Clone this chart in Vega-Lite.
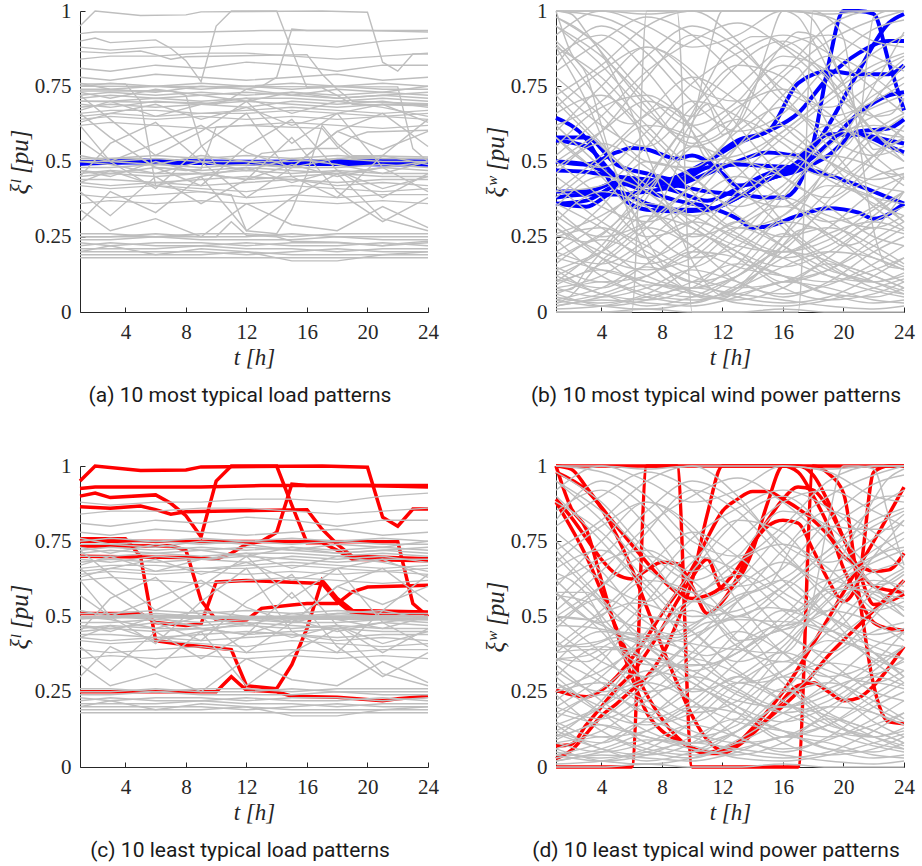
{
"$schema":"https://vega.github.io/schema/vega-lite/v6.json",
"background":"white",
"padding":{"left":7,"top":0,"right":5,"bottom":5},
"columns":2,
"spacing":{"row":49,"column":44},
"config":{
"view":{"stroke":null},
"axis":{"domainColor":"#262626","domainWidth":1,"tickColor":"#262626","labelColor":"#262626","titleColor":"#262626","labelFont":"Liberation Serif","labelFontSize":21,"titleFont":"Liberation Serif","titleFontSize":23,"titleFontStyle":"italic","titleFontWeight":"normal","grid":false,"tickSize":-5,"labelPadding":14,"labelFlush":false},
"axisX":{"titlePadding":4,"titleFontSize":23},
"axisY":{"titlePadding":2,"titleFontSize":25},
"title":{"font":"Roboto","fontSize":21,"fontWeight":"normal","color":"#1a1a1a","orient":"bottom","anchor":"middle","offset":16,"dx":-14}
},
"datasets":{
"L":[
{"s":1,"t":1,"v":0.74},{"s":1,"t":3,"v":0.74},{"s":1,"t":6,"v":0.75},{"s":1,"t":9,"v":0.74},{"s":1,"t":12,"v":0.75},{"s":1,"t":15,"v":0.74},{"s":1,"t":18,"v":0.75},{"s":1,"t":21,"v":0.74},{"s":1,"t":24,"v":0.74},
{"s":2,"t":1,"v":0.72},{"s":2,"t":3,"v":0.73},{"s":2,"t":6,"v":0.72},{"s":2,"t":9,"v":0.73},{"s":2,"t":12,"v":0.72},{"s":2,"t":15,"v":0.73},{"s":2,"t":18,"v":0.72},{"s":2,"t":21,"v":0.73},{"s":2,"t":24,"v":0.72},
{"s":3,"t":1,"v":0.70},{"s":3,"t":3,"v":0.70},{"s":3,"t":6,"v":0.71},{"s":3,"t":9,"v":0.70},{"s":3,"t":12,"v":0.71},{"s":3,"t":15,"v":0.71},{"s":3,"t":18,"v":0.70},{"s":3,"t":21,"v":0.71},{"s":3,"t":24,"v":0.70},
{"s":4,"t":1,"v":0.68},{"s":4,"t":3,"v":0.69},{"s":4,"t":6,"v":0.68},{"s":4,"t":9,"v":0.69},{"s":4,"t":12,"v":0.70},{"s":4,"t":15,"v":0.69},{"s":4,"t":18,"v":0.68},{"s":4,"t":21,"v":0.69},{"s":4,"t":24,"v":0.69},
{"s":5,"t":1,"v":0.66},{"s":5,"t":3,"v":0.67},{"s":5,"t":6,"v":0.67},{"s":5,"t":9,"v":0.66},{"s":5,"t":12,"v":0.67},{"s":5,"t":15,"v":0.68},{"s":5,"t":18,"v":0.67},{"s":5,"t":21,"v":0.66},{"s":5,"t":24,"v":0.67},
{"s":6,"t":1,"v":0.64},{"s":6,"t":3,"v":0.65},{"s":6,"t":6,"v":0.64},{"s":6,"t":9,"v":0.65},{"s":6,"t":12,"v":0.64},{"s":6,"t":15,"v":0.65},{"s":6,"t":18,"v":0.64},{"s":6,"t":21,"v":0.65},{"s":6,"t":24,"v":0.64},
{"s":7,"t":1,"v":0.62},{"s":7,"t":3,"v":0.63},{"s":7,"t":6,"v":0.62},{"s":7,"t":9,"v":0.61},{"s":7,"t":12,"v":0.62},{"s":7,"t":15,"v":0.63},{"s":7,"t":18,"v":0.62},{"s":7,"t":21,"v":0.61},{"s":7,"t":24,"v":0.62},
{"s":8,"t":1,"v":0.73},{"s":8,"t":3,"v":0.71},{"s":8,"t":6,"v":0.74},{"s":8,"t":9,"v":0.72},{"s":8,"t":12,"v":0.70},{"s":8,"t":15,"v":0.73},{"s":8,"t":18,"v":0.71},{"s":8,"t":21,"v":0.72},{"s":8,"t":24,"v":0.73},
{"s":9,"t":1,"v":0.67},{"s":9,"t":3,"v":0.70},{"s":9,"t":6,"v":0.65},{"s":9,"t":9,"v":0.69},{"s":9,"t":12,"v":0.71},{"s":9,"t":15,"v":0.66},{"s":9,"t":18,"v":0.70},{"s":9,"t":21,"v":0.68},{"s":9,"t":24,"v":0.65},
{"s":10,"t":1,"v":0.63},{"s":10,"t":3,"v":0.66},{"s":10,"t":6,"v":0.69},{"s":10,"t":9,"v":0.64},{"s":10,"t":12,"v":0.68},{"s":10,"t":15,"v":0.62},{"s":10,"t":18,"v":0.66},{"s":10,"t":21,"v":0.69},{"s":10,"t":24,"v":0.63},
{"s":11,"t":1,"v":0.51},{"s":11,"t":3,"v":0.51},{"s":11,"t":6,"v":0.52},{"s":11,"t":9,"v":0.51},{"s":11,"t":12,"v":0.52},{"s":11,"t":15,"v":0.51},{"s":11,"t":18,"v":0.52},{"s":11,"t":21,"v":0.51},{"s":11,"t":24,"v":0.51},
{"s":12,"t":1,"v":0.48},{"s":12,"t":3,"v":0.48},{"s":12,"t":6,"v":0.49},{"s":12,"t":9,"v":0.48},{"s":12,"t":12,"v":0.49},{"s":12,"t":15,"v":0.48},{"s":12,"t":18,"v":0.48},{"s":12,"t":21,"v":0.49},{"s":12,"t":24,"v":0.48},
{"s":13,"t":1,"v":0.46},{"s":13,"t":3,"v":0.47},{"s":13,"t":6,"v":0.46},{"s":13,"t":9,"v":0.46},{"s":13,"t":12,"v":0.47},{"s":13,"t":15,"v":0.46},{"s":13,"t":18,"v":0.47},{"s":13,"t":21,"v":0.46},{"s":13,"t":24,"v":0.46},
{"s":14,"t":1,"v":0.44},{"s":14,"t":3,"v":0.44},{"s":14,"t":6,"v":0.43},{"s":14,"t":9,"v":0.44},{"s":14,"t":12,"v":0.45},{"s":14,"t":15,"v":0.44},{"s":14,"t":18,"v":0.43},{"s":14,"t":21,"v":0.44},{"s":14,"t":24,"v":0.44},
{"s":15,"t":1,"v":0.42},{"s":15,"t":3,"v":0.41},{"s":15,"t":6,"v":0.42},{"s":15,"t":9,"v":0.41},{"s":15,"t":12,"v":0.40},{"s":15,"t":15,"v":0.42},{"s":15,"t":18,"v":0.41},{"s":15,"t":21,"v":0.40},{"s":15,"t":24,"v":0.41},
{"s":16,"t":1,"v":0.39},{"s":16,"t":3,"v":0.38},{"s":16,"t":6,"v":0.39},{"s":16,"t":9,"v":0.40},{"s":16,"t":12,"v":0.38},{"s":16,"t":15,"v":0.39},{"s":16,"t":18,"v":0.38},{"s":16,"t":21,"v":0.39},{"s":16,"t":24,"v":0.39},
{"s":17,"t":1,"v":0.47},{"s":17,"t":3,"v":0.45},{"s":17,"t":6,"v":0.50},{"s":17,"t":9,"v":0.46},{"s":17,"t":12,"v":0.44},{"s":17,"t":15,"v":0.49},{"s":17,"t":18,"v":0.45},{"s":17,"t":21,"v":0.48},{"s":17,"t":24,"v":0.50},
{"s":18,"t":1,"v":0.43},{"s":18,"t":3,"v":0.47},{"s":18,"t":6,"v":0.42},{"s":18,"t":9,"v":0.45},{"s":18,"t":12,"v":0.48},{"s":18,"t":15,"v":0.43},{"s":18,"t":18,"v":0.47},{"s":18,"t":21,"v":0.41},{"s":18,"t":24,"v":0.45},
{"s":19,"t":1,"v":0.50},{"s":19,"t":3,"v":0.49},{"s":19,"t":6,"v":0.46},{"s":19,"t":9,"v":0.50},{"s":19,"t":12,"v":0.47},{"s":19,"t":15,"v":0.51},{"s":19,"t":18,"v":0.49},{"s":19,"t":21,"v":0.46},{"s":19,"t":24,"v":0.50},
{"s":20,"t":1,"v":0.36},{"s":20,"t":3,"v":0.37},{"s":20,"t":6,"v":0.36},{"s":20,"t":9,"v":0.37},{"s":20,"t":12,"v":0.36},{"s":20,"t":15,"v":0.37},{"s":20,"t":18,"v":0.36},{"s":20,"t":21,"v":0.37},{"s":20,"t":24,"v":0.36},
{"s":21,"t":1,"v":0.26},{"s":21,"t":3,"v":0.26},{"s":21,"t":6,"v":0.25},{"s":21,"t":9,"v":0.26},{"s":21,"t":12,"v":0.26},{"s":21,"t":15,"v":0.25},{"s":21,"t":18,"v":0.26},{"s":21,"t":21,"v":0.26},{"s":21,"t":24,"v":0.26},
{"s":22,"t":1,"v":0.24},{"s":22,"t":3,"v":0.24},{"s":22,"t":6,"v":0.25},{"s":22,"t":9,"v":0.24},{"s":22,"t":12,"v":0.24},{"s":22,"t":15,"v":0.24},{"s":22,"t":18,"v":0.25},{"s":22,"t":21,"v":0.24},{"s":22,"t":24,"v":0.24},
{"s":23,"t":1,"v":0.23},{"s":23,"t":3,"v":0.22},{"s":23,"t":6,"v":0.23},{"s":23,"t":9,"v":0.23},{"s":23,"t":12,"v":0.22},{"s":23,"t":15,"v":0.23},{"s":23,"t":18,"v":0.23},{"s":23,"t":21,"v":0.22},{"s":23,"t":24,"v":0.23},
{"s":24,"t":1,"v":0.21},{"s":24,"t":3,"v":0.21},{"s":24,"t":6,"v":0.21},{"s":24,"t":9,"v":0.22},{"s":24,"t":12,"v":0.21},{"s":24,"t":15,"v":0.21},{"s":24,"t":18,"v":0.20},{"s":24,"t":21,"v":0.21},{"s":24,"t":24,"v":0.21},
{"s":25,"t":1,"v":0.19},{"s":25,"t":3,"v":0.19},{"s":25,"t":6,"v":0.19},{"s":25,"t":9,"v":0.19},{"s":25,"t":12,"v":0.20},{"s":25,"t":15,"v":0.19},{"s":25,"t":18,"v":0.19},{"s":25,"t":21,"v":0.19},{"s":25,"t":24,"v":0.19},
{"s":26,"t":1,"v":0.18},{"s":26,"t":3,"v":0.18},{"s":26,"t":6,"v":0.18},{"s":26,"t":9,"v":0.18},{"s":26,"t":12,"v":0.18},{"s":26,"t":15,"v":0.18},{"s":26,"t":18,"v":0.18},{"s":26,"t":21,"v":0.18},{"s":26,"t":24,"v":0.18},
{"s":27,"t":1,"v":0.20},{"s":27,"t":3,"v":0.22},{"s":27,"t":6,"v":0.19},{"s":27,"t":9,"v":0.21},{"s":27,"t":12,"v":0.20},{"s":27,"t":15,"v":0.17},{"s":27,"t":18,"v":0.17},{"s":27,"t":21,"v":0.19},{"s":27,"t":24,"v":0.20},
{"s":28,"t":1,"v":0.84},{"s":28,"t":3,"v":0.85},{"s":28,"t":6,"v":0.85},{"s":28,"t":9,"v":0.86},{"s":28,"t":12,"v":0.86},{"s":28,"t":15,"v":0.85},{"s":28,"t":18,"v":0.84},{"s":28,"t":21,"v":0.85},{"s":28,"t":24,"v":0.86},
{"s":29,"t":1,"v":0.81},{"s":29,"t":3,"v":0.80},{"s":29,"t":6,"v":0.82},{"s":29,"t":9,"v":0.81},{"s":29,"t":12,"v":0.83},{"s":29,"t":15,"v":0.82},{"s":29,"t":18,"v":0.80},{"s":29,"t":21,"v":0.82},{"s":29,"t":24,"v":0.82},
{"s":30,"t":1,"v":0.78},{"s":30,"t":3,"v":0.77},{"s":30,"t":6,"v":0.79},{"s":30,"t":9,"v":0.78},{"s":30,"t":12,"v":0.77},{"s":30,"t":15,"v":0.78},{"s":30,"t":18,"v":0.79},{"s":30,"t":21,"v":0.77},{"s":30,"t":24,"v":0.78},
{"s":31,"t":1,"v":0.88},{"s":31,"t":3,"v":0.87},{"s":31,"t":6,"v":0.88},{"s":31,"t":9,"v":0.88},{"s":31,"t":12,"v":0.89},{"s":31,"t":15,"v":0.89},{"s":31,"t":18,"v":0.88},{"s":31,"t":21,"v":0.90},{"s":31,"t":24,"v":0.91},
{"s":32,"t":1,"v":0.66},{"s":32,"t":3,"v":0.58},{"s":32,"t":6,"v":0.48},{"s":32,"t":9,"v":0.42},{"s":32,"t":12,"v":0.55},{"s":32,"t":15,"v":0.64},{"s":32,"t":18,"v":0.47},{"s":32,"t":21,"v":0.38},{"s":32,"t":24,"v":0.46},
{"s":33,"t":1,"v":0.45},{"s":33,"t":3,"v":0.56},{"s":33,"t":6,"v":0.63},{"s":33,"t":9,"v":0.50},{"s":33,"t":12,"v":0.38},{"s":33,"t":15,"v":0.48},{"s":33,"t":18,"v":0.60},{"s":33,"t":21,"v":0.66},{"s":33,"t":24,"v":0.55},
{"s":34,"t":1,"v":0.30},{"s":34,"t":3,"v":0.40},{"s":34,"t":6,"v":0.33},{"s":34,"t":9,"v":0.45},{"s":34,"t":12,"v":0.27},{"s":34,"t":15,"v":0.38},{"s":34,"t":18,"v":0.46},{"s":34,"t":21,"v":0.31},{"s":34,"t":24,"v":0.27},
{"s":35,"t":1,"v":0.57},{"s":35,"t":3,"v":0.50},{"s":35,"t":6,"v":0.56},{"s":35,"t":9,"v":0.62},{"s":35,"t":12,"v":0.53},{"s":35,"t":15,"v":0.48},{"s":35,"t":18,"v":0.60},{"s":35,"t":21,"v":0.54},{"s":35,"t":24,"v":0.60},
{"s":36,"t":1,"v":0.34},{"s":36,"t":3,"v":0.27},{"s":36,"t":6,"v":0.31},{"s":36,"t":9,"v":0.25},{"s":36,"t":12,"v":0.36},{"s":36,"t":15,"v":0.29},{"s":36,"t":18,"v":0.27},{"s":36,"t":21,"v":0.35},{"s":36,"t":24,"v":0.28},
{"s":37,"t":1,"v":0.75},{"s":37,"t":3,"v":0.76},{"s":37,"t":6,"v":0.75},{"s":37,"t":9,"v":0.76},{"s":37,"t":12,"v":0.75},{"s":37,"t":15,"v":0.76},{"s":37,"t":18,"v":0.75},{"s":37,"t":21,"v":0.76},{"s":37,"t":24,"v":0.75},
{"s":38,"t":1,"v":0.71},{"s":38,"t":3,"v":0.72},{"s":38,"t":6,"v":0.71},{"s":38,"t":9,"v":0.72},{"s":38,"t":12,"v":0.73},{"s":38,"t":15,"v":0.72},{"s":38,"t":18,"v":0.71},{"s":38,"t":21,"v":0.72},{"s":38,"t":24,"v":0.71},
{"s":39,"t":1,"v":0.69},{"s":39,"t":3,"v":0.68},{"s":39,"t":6,"v":0.70},{"s":39,"t":9,"v":0.69},{"s":39,"t":12,"v":0.68},{"s":39,"t":15,"v":0.70},{"s":39,"t":18,"v":0.69},{"s":39,"t":21,"v":0.70},{"s":39,"t":24,"v":0.68},
{"s":40,"t":1,"v":0.65},{"s":40,"t":3,"v":0.66},{"s":40,"t":6,"v":0.65},{"s":40,"t":9,"v":0.66},{"s":40,"t":12,"v":0.66},{"s":40,"t":15,"v":0.67},{"s":40,"t":18,"v":0.66},{"s":40,"t":21,"v":0.65},{"s":40,"t":24,"v":0.66},
{"s":41,"t":1,"v":0.76},{"s":41,"t":3,"v":0.74},{"s":41,"t":6,"v":0.73},{"s":41,"t":9,"v":0.75},{"s":41,"t":12,"v":0.74},{"s":41,"t":15,"v":0.72},{"s":41,"t":18,"v":0.74},{"s":41,"t":21,"v":0.73},{"s":41,"t":24,"v":0.75},
{"s":42,"t":1,"v":0.50},{"s":42,"t":3,"v":0.50},{"s":42,"t":6,"v":0.51},{"s":42,"t":9,"v":0.50},{"s":42,"t":12,"v":0.50},{"s":42,"t":15,"v":0.50},{"s":42,"t":18,"v":0.51},{"s":42,"t":21,"v":0.50},{"s":42,"t":24,"v":0.50},
{"s":43,"t":1,"v":0.47},{"s":43,"t":3,"v":0.46},{"s":43,"t":6,"v":0.48},{"s":43,"t":9,"v":0.47},{"s":43,"t":12,"v":0.48},{"s":43,"t":15,"v":0.47},{"s":43,"t":18,"v":0.46},{"s":43,"t":21,"v":0.48},{"s":43,"t":24,"v":0.47},
{"s":44,"t":1,"v":0.45},{"s":44,"t":3,"v":0.46},{"s":44,"t":6,"v":0.45},{"s":44,"t":9,"v":0.46},{"s":44,"t":12,"v":0.44},{"s":44,"t":15,"v":0.45},{"s":44,"t":18,"v":0.46},{"s":44,"t":21,"v":0.45},{"s":44,"t":24,"v":0.45},
{"s":45,"t":1,"v":0.43},{"s":45,"t":3,"v":0.42},{"s":45,"t":6,"v":0.43},{"s":45,"t":9,"v":0.42},{"s":45,"t":12,"v":0.43},{"s":45,"t":15,"v":0.44},{"s":45,"t":18,"v":0.42},{"s":45,"t":21,"v":0.43},{"s":45,"t":24,"v":0.42},
{"s":46,"t":1,"v":0.52},{"s":46,"t":3,"v":0.50},{"s":46,"t":6,"v":0.49},{"s":46,"t":9,"v":0.52},{"s":46,"t":12,"v":0.50},{"s":46,"t":15,"v":0.48},{"s":46,"t":18,"v":0.51},{"s":46,"t":21,"v":0.52},{"s":46,"t":24,"v":0.49},
{"s":47,"t":1,"v":0.25},{"s":47,"t":3,"v":0.25},{"s":47,"t":6,"v":0.26},{"s":47,"t":9,"v":0.25},{"s":47,"t":12,"v":0.25},{"s":47,"t":15,"v":0.26},{"s":47,"t":18,"v":0.25},{"s":47,"t":21,"v":0.25},{"s":47,"t":24,"v":0.25},
{"s":48,"t":1,"v":0.22},{"s":48,"t":3,"v":0.23},{"s":48,"t":6,"v":0.22},{"s":48,"t":9,"v":0.22},{"s":48,"t":12,"v":0.23},{"s":48,"t":15,"v":0.22},{"s":48,"t":18,"v":0.22},{"s":48,"t":21,"v":0.23},{"s":48,"t":24,"v":0.22},
{"s":49,"t":1,"v":0.20},{"s":49,"t":3,"v":0.20},{"s":49,"t":6,"v":0.20},{"s":49,"t":9,"v":0.20},{"s":49,"t":12,"v":0.19},{"s":49,"t":15,"v":0.20},{"s":49,"t":18,"v":0.21},{"s":49,"t":21,"v":0.20},{"s":49,"t":24,"v":0.20},
{"s":50,"t":1,"v":0.62},{"s":50,"t":3,"v":0.50},{"s":50,"t":6,"v":0.41},{"s":50,"t":9,"v":0.55},{"s":50,"t":12,"v":0.66},{"s":50,"t":15,"v":0.45},{"s":50,"t":18,"v":0.38},{"s":50,"t":21,"v":0.52},{"s":50,"t":24,"v":0.64},
{"s":51,"t":1,"v":0.40},{"s":51,"t":3,"v":0.32},{"s":51,"t":6,"v":0.45},{"s":51,"t":9,"v":0.36},{"s":51,"t":12,"v":0.44},{"s":51,"t":15,"v":0.58},{"s":51,"t":18,"v":0.40},{"s":51,"t":21,"v":0.30},{"s":51,"t":24,"v":0.38},
{"s":52,"t":1,"v":0.72},{"s":52,"t":3,"v":0.64},{"s":52,"t":6,"v":0.52},{"s":52,"t":9,"v":0.60},{"s":52,"t":12,"v":0.70},{"s":52,"t":15,"v":0.56},{"s":52,"t":18,"v":0.66},{"s":52,"t":21,"v":0.48},{"s":52,"t":24,"v":0.40},
{"s":101,"t":1,"v":0.495},{"s":101,"t":5,"v":0.5},{"s":101,"t":9,"v":0.497},{"s":101,"t":13,"v":0.493},{"s":101,"t":17,"v":0.492},{"s":101,"t":21,"v":0.49},{"s":101,"t":24,"v":0.492},
{"s":102,"t":1,"v":0.497},{"s":102,"t":5,"v":0.503},{"s":102,"t":9,"v":0.5},{"s":102,"t":13,"v":0.495},{"s":102,"t":17,"v":0.496},{"s":102,"t":21,"v":0.494},{"s":102,"t":24,"v":0.49},
{"s":103,"t":1,"v":0.493},{"s":103,"t":5,"v":0.501},{"s":103,"t":9,"v":0.496},{"s":103,"t":13,"v":0.497},{"s":103,"t":17,"v":0.493},{"s":103,"t":21,"v":0.492},{"s":103,"t":24,"v":0.495},
{"s":104,"t":1,"v":0.492},{"s":104,"t":5,"v":0.498},{"s":104,"t":9,"v":0.494},{"s":104,"t":13,"v":0.492},{"s":104,"t":17,"v":0.491},{"s":104,"t":21,"v":0.491},{"s":104,"t":24,"v":0.49},
{"s":105,"t":1,"v":0.498},{"s":105,"t":5,"v":0.504},{"s":105,"t":9,"v":0.501},{"s":105,"t":13,"v":0.499},{"s":105,"t":17,"v":0.497},{"s":105,"t":21,"v":0.495},{"s":105,"t":24,"v":0.494},
{"s":106,"t":1,"v":0.497},{"s":106,"t":5,"v":0.502},{"s":106,"t":9,"v":0.499},{"s":106,"t":13,"v":0.5},{"s":106,"t":17,"v":0.502},{"s":106,"t":21,"v":0.503},{"s":106,"t":24,"v":0.501},
{"s":107,"t":1,"v":0.493},{"s":107,"t":5,"v":0.499},{"s":107,"t":9,"v":0.495},{"s":107,"t":13,"v":0.494},{"s":107,"t":17,"v":0.492},{"s":107,"t":21,"v":0.49},{"s":107,"t":24,"v":0.489},
{"s":108,"t":1,"v":0.496},{"s":108,"t":5,"v":0.501},{"s":108,"t":9,"v":0.498},{"s":108,"t":13,"v":0.496},{"s":108,"t":17,"v":0.497},{"s":108,"t":21,"v":0.495},{"s":108,"t":24,"v":0.493},
{"s":109,"t":1,"v":0.494},{"s":109,"t":5,"v":0.497},{"s":109,"t":9,"v":0.494},{"s":109,"t":13,"v":0.495},{"s":109,"t":17,"v":0.494},{"s":109,"t":21,"v":0.493},{"s":109,"t":24,"v":0.492},
{"s":110,"t":1,"v":0.498},{"s":110,"t":5,"v":0.503},{"s":110,"t":9,"v":0.5},{"s":110,"t":13,"v":0.498},{"s":110,"t":17,"v":0.499},{"s":110,"t":21,"v":0.5},{"s":110,"t":24,"v":0.499},
{"s":201,"t":1,"v":0.95},{"s":201,"t":2,"v":1.0},{"s":201,"t":5,"v":0.985},{"s":201,"t":8,"v":0.987},{"s":201,"t":9,"v":0.997},{"s":201,"t":17,"v":1.0},{"s":201,"t":20,"v":0.996},{"s":201,"t":21,"v":0.83},{"s":201,"t":22,"v":0.8},{"s":201,"t":23,"v":0.857},{"s":201,"t":24,"v":0.857},
{"s":202,"t":1,"v":0.925},{"s":202,"t":2,"v":0.93},{"s":202,"t":9,"v":0.93},{"s":202,"t":13,"v":0.935},{"s":202,"t":20,"v":0.935},{"s":202,"t":24,"v":0.93},
{"s":203,"t":1,"v":0.9},{"s":203,"t":2,"v":0.91},{"s":203,"t":3,"v":0.895},{"s":203,"t":6,"v":0.904},{"s":203,"t":7,"v":0.876},{"s":203,"t":8,"v":0.835},{"s":203,"t":9,"v":0.765},{"s":203,"t":10,"v":0.95},{"s":203,"t":11,"v":1.0},{"s":203,"t":14,"v":1.0},{"s":203,"t":15,"v":0.87},{"s":203,"t":16,"v":0.745},{"s":203,"t":17,"v":0.745},{"s":203,"t":18,"v":0.72},{"s":203,"t":19,"v":0.69},{"s":203,"t":24,"v":0.685},
{"s":204,"t":1,"v":0.865},{"s":204,"t":3,"v":0.86},{"s":204,"t":5,"v":0.867},{"s":204,"t":6,"v":0.855},{"s":204,"t":7,"v":0.84},{"s":204,"t":8,"v":0.848},{"s":204,"t":16,"v":0.855},{"s":204,"t":17,"v":0.79},{"s":204,"t":18,"v":0.74},{"s":204,"t":19,"v":0.7},{"s":204,"t":24,"v":0.692},
{"s":205,"t":1,"v":0.7},{"s":205,"t":9,"v":0.695},{"s":205,"t":10,"v":0.69},{"s":205,"t":11,"v":0.71},{"s":205,"t":12,"v":0.74},{"s":205,"t":13,"v":0.75},{"s":205,"t":14,"v":0.78},{"s":205,"t":15,"v":0.94},{"s":205,"t":16,"v":0.935},{"s":205,"t":24,"v":0.935},
{"s":206,"t":1,"v":0.734},{"s":206,"t":7,"v":0.735},{"s":206,"t":8,"v":0.72},{"s":206,"t":9,"v":0.554},{"s":206,"t":10,"v":0.488},{"s":206,"t":12,"v":0.488},{"s":206,"t":13,"v":0.527},{"s":206,"t":15,"v":0.538},{"s":206,"t":16,"v":0.543},{"s":206,"t":18,"v":0.543},{"s":206,"t":19,"v":0.582},{"s":206,"t":20,"v":0.598},{"s":206,"t":24,"v":0.604},
{"s":207,"t":1,"v":0.758},{"s":207,"t":4,"v":0.758},{"s":207,"t":5,"v":0.7},{"s":207,"t":6,"v":0.42},{"s":207,"t":8,"v":0.405},{"s":207,"t":11,"v":0.39},{"s":207,"t":12,"v":0.27},{"s":207,"t":14,"v":0.26},{"s":207,"t":15,"v":0.34},{"s":207,"t":16,"v":0.46},{"s":207,"t":17,"v":0.62},{"s":207,"t":18,"v":0.56},{"s":207,"t":19,"v":0.52},{"s":207,"t":24,"v":0.515},
{"s":208,"t":1,"v":0.51},{"s":208,"t":5,"v":0.51},{"s":208,"t":6,"v":0.48},{"s":208,"t":8,"v":0.47},{"s":208,"t":9,"v":0.475},{"s":208,"t":10,"v":0.615},{"s":208,"t":12,"v":0.62},{"s":208,"t":17,"v":0.61},{"s":208,"t":18,"v":0.55},{"s":208,"t":19,"v":0.51},{"s":208,"t":24,"v":0.51},
{"s":209,"t":1,"v":0.25},{"s":209,"t":10,"v":0.25},{"s":209,"t":11,"v":0.3},{"s":209,"t":12,"v":0.255},{"s":209,"t":14,"v":0.25},{"s":209,"t":15,"v":0.235},{"s":209,"t":18,"v":0.232},{"s":209,"t":21,"v":0.22},{"s":209,"t":22,"v":0.227},{"s":209,"t":24,"v":0.235},
{"s":210,"t":1,"v":0.75},{"s":210,"t":22,"v":0.748},{"s":210,"t":23,"v":0.543},{"s":210,"t":24,"v":0.5}
],
"W":[
{"s":1,"t":1,"v":0.95},{"s":1,"t":4,"v":0.85},{"s":1,"t":7,"v":0.7},{"s":1,"t":10,"v":0.55},{"s":1,"t":13,"v":0.62},{"s":1,"t":16,"v":0.78},{"s":1,"t":19,"v":0.9},{"s":1,"t":22,"v":0.97},{"s":1,"t":24,"v":1.0},
{"s":2,"t":1,"v":0.1},{"s":2,"t":4,"v":0.22},{"s":2,"t":7,"v":0.4},{"s":2,"t":10,"v":0.55},{"s":2,"t":13,"v":0.48},{"s":2,"t":16,"v":0.3},{"s":2,"t":19,"v":0.18},{"s":2,"t":22,"v":0.12},{"s":2,"t":24,"v":0.08},
{"s":3,"t":1,"v":0.6},{"s":3,"t":4,"v":0.75},{"s":3,"t":7,"v":0.88},{"s":3,"t":10,"v":0.8},{"s":3,"t":13,"v":0.62},{"s":3,"t":16,"v":0.45},{"s":3,"t":19,"v":0.38},{"s":3,"t":22,"v":0.5},{"s":3,"t":24,"v":0.62},
{"s":4,"t":1,"v":0.3},{"s":4,"t":4,"v":0.18},{"s":4,"t":7,"v":0.08},{"s":4,"t":10,"v":0.05},{"s":4,"t":13,"v":0.12},{"s":4,"t":16,"v":0.25},{"s":4,"t":19,"v":0.4},{"s":4,"t":22,"v":0.52},{"s":4,"t":24,"v":0.58},
{"s":5,"t":1,"v":0.85},{"s":5,"t":4,"v":0.92},{"s":5,"t":7,"v":0.8},{"s":5,"t":10,"v":0.6},{"s":5,"t":13,"v":0.4},{"s":5,"t":16,"v":0.35},{"s":5,"t":19,"v":0.48},{"s":5,"t":22,"v":0.7},{"s":5,"t":24,"v":0.82},
{"s":6,"t":1,"v":0.05},{"s":6,"t":4,"v":0.03},{"s":6,"t":7,"v":0.06},{"s":6,"t":10,"v":0.15},{"s":6,"t":13,"v":0.28},{"s":6,"t":16,"v":0.35},{"s":6,"t":19,"v":0.3},{"s":6,"t":22,"v":0.2},{"s":6,"t":24,"v":0.15},
{"s":7,"t":1,"v":0.45},{"s":7,"t":4,"v":0.35},{"s":7,"t":7,"v":0.3},{"s":7,"t":10,"v":0.38},{"s":7,"t":13,"v":0.55},{"s":7,"t":16,"v":0.72},{"s":7,"t":19,"v":0.85},{"s":7,"t":22,"v":0.78},{"s":7,"t":24,"v":0.7},
{"s":8,"t":1,"v":0.7},{"s":8,"t":4,"v":0.55},{"s":8,"t":7,"v":0.42},{"s":8,"t":10,"v":0.3},{"s":8,"t":13,"v":0.22},{"s":8,"t":16,"v":0.2},{"s":8,"t":19,"v":0.28},{"s":8,"t":22,"v":0.4},{"s":8,"t":24,"v":0.45},
{"s":9,"t":1,"v":0.2},{"s":9,"t":4,"v":0.3},{"s":9,"t":7,"v":0.45},{"s":9,"t":10,"v":0.65},{"s":9,"t":13,"v":0.82},{"s":9,"t":16,"v":0.9},{"s":9,"t":19,"v":0.78},{"s":9,"t":22,"v":0.6},{"s":9,"t":24,"v":0.5},
{"s":10,"t":1,"v":0.02},{"s":10,"t":4,"v":0.04},{"s":10,"t":7,"v":0.03},{"s":10,"t":10,"v":0.02},{"s":10,"t":13,"v":0.05},{"s":10,"t":16,"v":0.1},{"s":10,"t":19,"v":0.08},{"s":10,"t":22,"v":0.04},{"s":10,"t":24,"v":0.03},
{"s":11,"t":1,"v":1.0},{"s":11,"t":4,"v":0.98},{"s":11,"t":7,"v":0.9},{"s":11,"t":10,"v":0.75},{"s":11,"t":13,"v":0.7},{"s":11,"t":16,"v":0.8},{"s":11,"t":19,"v":0.95},{"s":11,"t":22,"v":1.0},{"s":11,"t":24,"v":1.0},
{"s":12,"t":1,"v":0.38},{"s":12,"t":4,"v":0.5},{"s":12,"t":7,"v":0.62},{"s":12,"t":10,"v":0.58},{"s":12,"t":13,"v":0.42},{"s":12,"t":16,"v":0.28},{"s":12,"t":19,"v":0.15},{"s":12,"t":22,"v":0.1},{"s":12,"t":24,"v":0.12},
{"s":13,"t":1,"v":0.15},{"s":13,"t":4,"v":0.1},{"s":13,"t":7,"v":0.12},{"s":13,"t":10,"v":0.2},{"s":13,"t":13,"v":0.18},{"s":13,"t":16,"v":0.12},{"s":13,"t":19,"v":0.06},{"s":13,"t":22,"v":0.05},{"s":13,"t":24,"v":0.08},
{"s":14,"t":1,"v":0.55},{"s":14,"t":4,"v":0.68},{"s":14,"t":7,"v":0.72},{"s":14,"t":10,"v":0.65},{"s":14,"t":13,"v":0.75},{"s":14,"t":16,"v":0.88},{"s":14,"t":19,"v":0.92},{"s":14,"t":22,"v":0.85},{"s":14,"t":24,"v":0.8},
{"s":15,"t":1,"v":0.25},{"s":15,"t":4,"v":0.28},{"s":15,"t":7,"v":0.2},{"s":15,"t":10,"v":0.12},{"s":15,"t":13,"v":0.08},{"s":15,"t":16,"v":0.1},{"s":15,"t":19,"v":0.18},{"s":15,"t":22,"v":0.3},{"s":15,"t":24,"v":0.35},
{"s":16,"t":1,"v":0.78},{"s":16,"t":4,"v":0.65},{"s":16,"t":7,"v":0.5},{"s":16,"t":10,"v":0.48},{"s":16,"t":13,"v":0.6},{"s":16,"t":16,"v":0.68},{"s":16,"t":19,"v":0.55},{"s":16,"t":22,"v":0.38},{"s":16,"t":24,"v":0.3},
{"s":17,"t":1,"v":0.08},{"s":17,"t":4,"v":0.12},{"s":17,"t":7,"v":0.22},{"s":17,"t":10,"v":0.3},{"s":17,"t":13,"v":0.25},{"s":17,"t":16,"v":0.18},{"s":17,"t":19,"v":0.22},{"s":17,"t":22,"v":0.32},{"s":17,"t":24,"v":0.4},
{"s":18,"t":1,"v":0.92},{"s":18,"t":4,"v":1.0},{"s":18,"t":7,"v":0.95},{"s":18,"t":10,"v":0.88},{"s":18,"t":13,"v":0.92},{"s":18,"t":16,"v":1.0},{"s":18,"t":19,"v":0.98},{"s":18,"t":22,"v":0.9},{"s":18,"t":24,"v":0.88},
{"s":19,"t":1,"v":0.32},{"s":19,"t":4,"v":0.25},{"s":19,"t":7,"v":0.3},{"s":19,"t":10,"v":0.42},{"s":19,"t":13,"v":0.5},{"s":19,"t":16,"v":0.45},{"s":19,"t":19,"v":0.35},{"s":19,"t":22,"v":0.25},{"s":19,"t":24,"v":0.22},
{"s":20,"t":1,"v":0.62},{"s":20,"t":4,"v":0.48},{"s":20,"t":7,"v":0.35},{"s":20,"t":10,"v":0.22},{"s":20,"t":13,"v":0.15},{"s":20,"t":16,"v":0.12},{"s":20,"t":19,"v":0.1},{"s":20,"t":22,"v":0.14},{"s":20,"t":24,"v":0.18},
{"s":21,"t":1,"v":0.12},{"s":21,"t":4,"v":0.2},{"s":21,"t":7,"v":0.32},{"s":21,"t":10,"v":0.28},{"s":21,"t":13,"v":0.18},{"s":21,"t":16,"v":0.08},{"s":21,"t":19,"v":0.04},{"s":21,"t":22,"v":0.06},{"s":21,"t":24,"v":0.1},
{"s":22,"t":1,"v":0.48},{"s":22,"t":4,"v":0.6},{"s":22,"t":7,"v":0.78},{"s":22,"t":10,"v":0.92},{"s":22,"t":13,"v":0.85},{"s":22,"t":16,"v":0.7},{"s":22,"t":19,"v":0.62},{"s":22,"t":22,"v":0.72},{"s":22,"t":24,"v":0.78},
{"s":23,"t":1,"v":0.04},{"s":23,"t":4,"v":0.08},{"s":23,"t":7,"v":0.15},{"s":23,"t":10,"v":0.1},{"s":23,"t":13,"v":0.05},{"s":23,"t":16,"v":0.03},{"s":23,"t":19,"v":0.05},{"s":23,"t":22,"v":0.12},{"s":23,"t":24,"v":0.18},
{"s":24,"t":1,"v":0.72},{"s":24,"t":4,"v":0.82},{"s":24,"t":7,"v":0.95},{"s":24,"t":10,"v":1.0},{"s":24,"t":13,"v":0.9},{"s":24,"t":16,"v":0.72},{"s":24,"t":19,"v":0.58},{"s":24,"t":22,"v":0.52},{"s":24,"t":24,"v":0.55},
{"s":25,"t":1,"v":0.18},{"s":25,"t":4,"v":0.14},{"s":25,"t":7,"v":0.1},{"s":25,"t":10,"v":0.08},{"s":25,"t":13,"v":0.12},{"s":25,"t":16,"v":0.22},{"s":25,"t":19,"v":0.35},{"s":25,"t":22,"v":0.45},{"s":25,"t":24,"v":0.48},
{"s":26,"t":1,"v":0.4},{"s":26,"t":4,"v":0.42},{"s":26,"t":7,"v":0.55},{"s":26,"t":10,"v":0.7},{"s":26,"t":13,"v":0.65},{"s":26,"t":16,"v":0.52},{"s":26,"t":19,"v":0.45},{"s":26,"t":22,"v":0.58},{"s":26,"t":24,"v":0.65},
{"s":27,"t":1,"v":0.06},{"s":27,"t":4,"v":0.02},{"s":27,"t":7,"v":0.01},{"s":27,"t":10,"v":0.03},{"s":27,"t":13,"v":0.08},{"s":27,"t":16,"v":0.15},{"s":27,"t":19,"v":0.2},{"s":27,"t":22,"v":0.18},{"s":27,"t":24,"v":0.14},
{"s":28,"t":1,"v":0.88},{"s":28,"t":4,"v":0.78},{"s":28,"t":7,"v":0.62},{"s":28,"t":10,"v":0.5},{"s":28,"t":13,"v":0.52},{"s":28,"t":16,"v":0.6},{"s":28,"t":19,"v":0.72},{"s":28,"t":22,"v":0.82},{"s":28,"t":24,"v":0.86},
{"s":29,"t":1,"v":0.22},{"s":29,"t":4,"v":0.35},{"s":29,"t":7,"v":0.5},{"s":29,"t":10,"v":0.45},{"s":29,"t":13,"v":0.32},{"s":29,"t":16,"v":0.25},{"s":29,"t":19,"v":0.28},{"s":29,"t":22,"v":0.22},{"s":29,"t":24,"v":0.16},
{"s":30,"t":1,"v":0.58},{"s":30,"t":4,"v":0.45},{"s":30,"t":7,"v":0.28},{"s":30,"t":10,"v":0.18},{"s":30,"t":13,"v":0.22},{"s":30,"t":16,"v":0.38},{"s":30,"t":19,"v":0.55},{"s":30,"t":22,"v":0.65},{"s":30,"t":24,"v":0.68},
{"s":31,"t":1,"v":0.14},{"s":31,"t":4,"v":0.06},{"s":31,"t":7,"v":0.04},{"s":31,"t":10,"v":0.08},{"s":31,"t":13,"v":0.2},{"s":31,"t":16,"v":0.32},{"s":31,"t":19,"v":0.42},{"s":31,"t":22,"v":0.38},{"s":31,"t":24,"v":0.3},
{"s":32,"t":1,"v":0.8},{"s":32,"t":4,"v":0.9},{"s":32,"t":7,"v":0.98},{"s":32,"t":10,"v":0.92},{"s":32,"t":13,"v":0.78},{"s":32,"t":16,"v":0.62},{"s":32,"t":19,"v":0.5},{"s":32,"t":22,"v":0.42},{"s":32,"t":24,"v":0.4},
{"s":33,"t":1,"v":0.28},{"s":33,"t":4,"v":0.2},{"s":33,"t":7,"v":0.16},{"s":33,"t":10,"v":0.22},{"s":33,"t":13,"v":0.35},{"s":33,"t":16,"v":0.48},{"s":33,"t":19,"v":0.6},{"s":33,"t":22,"v":0.68},{"s":33,"t":24,"v":0.72},
{"s":34,"t":1,"v":0.01},{"s":34,"t":4,"v":0.02},{"s":34,"t":7,"v":0.05},{"s":34,"t":10,"v":0.08},{"s":34,"t":13,"v":0.06},{"s":34,"t":16,"v":0.04},{"s":34,"t":19,"v":0.02},{"s":34,"t":22,"v":0.01},{"s":34,"t":24,"v":0.02},
{"s":35,"t":1,"v":0.5},{"s":35,"t":4,"v":0.38},{"s":35,"t":7,"v":0.25},{"s":35,"t":10,"v":0.3},{"s":35,"t":13,"v":0.45},{"s":35,"t":16,"v":0.58},{"s":35,"t":19,"v":0.7},{"s":35,"t":22,"v":0.8},{"s":35,"t":24,"v":0.85},
{"s":36,"t":1,"v":0.35},{"s":36,"t":4,"v":0.45},{"s":36,"t":7,"v":0.4},{"s":36,"t":10,"v":0.28},{"s":36,"t":13,"v":0.2},{"s":36,"t":16,"v":0.15},{"s":36,"t":19,"v":0.2},{"s":36,"t":22,"v":0.28},{"s":36,"t":24,"v":0.26},
{"s":37,"t":1,"v":0.66},{"s":37,"t":4,"v":0.72},{"s":37,"t":7,"v":0.6},{"s":37,"t":10,"v":0.45},{"s":37,"t":13,"v":0.35},{"s":37,"t":16,"v":0.42},{"s":37,"t":19,"v":0.58},{"s":37,"t":22,"v":0.62},{"s":37,"t":24,"v":0.6},
{"s":38,"t":1,"v":0.1},{"s":38,"t":4,"v":0.16},{"s":38,"t":7,"v":0.28},{"s":38,"t":10,"v":0.42},{"s":38,"t":13,"v":0.55},{"s":38,"t":16,"v":0.62},{"s":38,"t":19,"v":0.5},{"s":38,"t":22,"v":0.35},{"s":38,"t":24,"v":0.28},
{"s":39,"t":1,"v":0.98},{"s":39,"t":4,"v":0.88},{"s":39,"t":7,"v":0.72},{"s":39,"t":10,"v":0.62},{"s":39,"t":13,"v":0.7},{"s":39,"t":16,"v":0.85},{"s":39,"t":19,"v":0.8},{"s":39,"t":22,"v":0.65},{"s":39,"t":24,"v":0.58},
{"s":40,"t":1,"v":0.24},{"s":40,"t":4,"v":0.12},{"s":40,"t":7,"v":0.06},{"s":40,"t":10,"v":0.04},{"s":40,"t":13,"v":0.06},{"s":40,"t":16,"v":0.1},{"s":40,"t":19,"v":0.14},{"s":40,"t":22,"v":0.22},{"s":40,"t":24,"v":0.28},
{"s":41,"t":1,"v":0.42},{"s":41,"t":4,"v":0.3},{"s":41,"t":7,"v":0.22},{"s":41,"t":10,"v":0.15},{"s":41,"t":13,"v":0.25},{"s":41,"t":16,"v":0.4},{"s":41,"t":19,"v":0.52},{"s":41,"t":22,"v":0.48},{"s":41,"t":24,"v":0.42},
{"s":42,"t":1,"v":0.75},{"s":42,"t":4,"v":0.62},{"s":42,"t":7,"v":0.55},{"s":42,"t":10,"v":0.68},{"s":42,"t":13,"v":0.82},{"s":42,"t":16,"v":0.78},{"s":42,"t":19,"v":0.65},{"s":42,"t":22,"v":0.7},{"s":42,"t":24,"v":0.76},
{"s":43,"t":1,"v":0.16},{"s":43,"t":4,"v":0.24},{"s":43,"t":7,"v":0.18},{"s":43,"t":10,"v":0.1},{"s":43,"t":13,"v":0.14},{"s":43,"t":16,"v":0.26},{"s":43,"t":19,"v":0.16},{"s":43,"t":22,"v":0.08},{"s":43,"t":24,"v":0.06},
{"s":44,"t":1,"v":0.03},{"s":44,"t":4,"v":0.06},{"s":44,"t":7,"v":0.12},{"s":44,"t":10,"v":0.2},{"s":44,"t":13,"v":0.3},{"s":44,"t":16,"v":0.22},{"s":44,"t":19,"v":0.12},{"s":44,"t":22,"v":0.07},{"s":44,"t":24,"v":0.05},
{"s":45,"t":1,"v":0.52},{"s":45,"t":4,"v":0.65},{"s":45,"t":7,"v":0.8},{"s":45,"t":10,"v":0.9},{"s":45,"t":13,"v":0.96},{"s":45,"t":16,"v":0.88},{"s":45,"t":19,"v":0.75},{"s":45,"t":22,"v":0.6},{"s":45,"t":24,"v":0.52},
{"s":46,"t":1,"v":0.08},{"s":46,"t":4,"v":0.05},{"s":46,"t":7,"v":0.08},{"s":46,"t":10,"v":0.14},{"s":46,"t":13,"v":0.1},{"s":46,"t":16,"v":0.05},{"s":46,"t":19,"v":0.1},{"s":46,"t":22,"v":0.2},{"s":46,"t":24,"v":0.25},
{"s":47,"t":1,"v":0.3},{"s":47,"t":4,"v":0.4},{"s":47,"t":7,"v":0.35},{"s":47,"t":10,"v":0.25},{"s":47,"t":13,"v":0.3},{"s":47,"t":16,"v":0.38},{"s":47,"t":19,"v":0.32},{"s":47,"t":22,"v":0.28},{"s":47,"t":24,"v":0.32},
{"s":48,"t":1,"v":0.68},{"s":48,"t":4,"v":0.8},{"s":48,"t":7,"v":0.88},{"s":48,"t":10,"v":0.78},{"s":48,"t":13,"v":0.55},{"s":48,"t":16,"v":0.38},{"s":48,"t":19,"v":0.3},{"s":48,"t":22,"v":0.35},{"s":48,"t":24,"v":0.45},
{"s":49,"t":1,"v":0.0},{"s":49,"t":4,"v":0.0},{"s":49,"t":7,"v":0.01},{"s":49,"t":10,"v":0.0},{"s":49,"t":13,"v":0.0},{"s":49,"t":16,"v":0.01},{"s":49,"t":19,"v":0.0},{"s":49,"t":22,"v":0.0},{"s":49,"t":24,"v":0.0},
{"s":50,"t":1,"v":1.0},{"s":50,"t":4,"v":1.0},{"s":50,"t":7,"v":0.99},{"s":50,"t":10,"v":1.0},{"s":50,"t":13,"v":1.0},{"s":50,"t":16,"v":1.0},{"s":50,"t":19,"v":0.99},{"s":50,"t":22,"v":1.0},{"s":50,"t":24,"v":1.0},
{"s":51,"t":1,"v":0.12},{"s":51,"t":4,"v":0.08},{"s":51,"t":7,"v":0.16},{"s":51,"t":10,"v":0.26},{"s":51,"t":13,"v":0.2},{"s":51,"t":16,"v":0.1},{"s":51,"t":19,"v":0.14},{"s":51,"t":22,"v":0.24},{"s":51,"t":24,"v":0.3},
{"s":52,"t":1,"v":0.9},{"s":52,"t":4,"v":0.75},{"s":52,"t":7,"v":0.58},{"s":52,"t":10,"v":0.4},{"s":52,"t":13,"v":0.28},{"s":52,"t":16,"v":0.32},{"s":52,"t":19,"v":0.45},{"s":52,"t":22,"v":0.6},{"s":52,"t":24,"v":0.66},
{"s":53,"t":1,"v":0.2},{"s":53,"t":4,"v":0.16},{"s":53,"t":7,"v":0.24},{"s":53,"t":10,"v":0.36},{"s":53,"t":13,"v":0.45},{"s":53,"t":16,"v":0.38},{"s":53,"t":19,"v":0.26},{"s":53,"t":22,"v":0.18},{"s":53,"t":24,"v":0.14},
{"s":54,"t":1,"v":0.06},{"s":54,"t":4,"v":0.1},{"s":54,"t":7,"v":0.05},{"s":54,"t":10,"v":0.03},{"s":54,"t":13,"v":0.09},{"s":54,"t":16,"v":0.18},{"s":54,"t":19,"v":0.26},{"s":54,"t":22,"v":0.3},{"s":54,"t":24,"v":0.27},
{"s":55,"t":1,"v":0.62},{"s":55,"t":4,"v":0.7},{"s":55,"t":7,"v":0.85},{"s":55,"t":10,"v":0.95},{"s":55,"t":13,"v":0.88},{"s":55,"t":16,"v":0.74},{"s":55,"t":19,"v":0.68},{"s":55,"t":22,"v":0.76},{"s":55,"t":24,"v":0.84},
{"s":56,"t":1,"v":0.34},{"s":56,"t":4,"v":0.22},{"s":56,"t":7,"v":0.12},{"s":56,"t":10,"v":0.08},{"s":56,"t":13,"v":0.16},{"s":56,"t":16,"v":0.3},{"s":56,"t":19,"v":0.26},{"s":56,"t":22,"v":0.15},{"s":56,"t":24,"v":0.1},
{"s":57,"t":1,"v":0.26},{"s":57,"t":4,"v":0.32},{"s":57,"t":7,"v":0.42},{"s":57,"t":10,"v":0.55},{"s":57,"t":13,"v":0.68},{"s":57,"t":16,"v":0.74},{"s":57,"t":19,"v":0.66},{"s":57,"t":22,"v":0.52},{"s":57,"t":24,"v":0.44},
{"s":58,"t":1,"v":0.82},{"s":58,"t":4,"v":0.95},{"s":58,"t":7,"v":0.86},{"s":58,"t":10,"v":0.7},{"s":58,"t":13,"v":0.6},{"s":58,"t":16,"v":0.66},{"s":58,"t":19,"v":0.82},{"s":58,"t":22,"v":0.94},{"s":58,"t":24,"v":0.97},
{"s":59,"t":1,"v":0.04},{"s":59,"t":4,"v":0.02},{"s":59,"t":7,"v":0.04},{"s":59,"t":10,"v":0.1},{"s":59,"t":13,"v":0.16},{"s":59,"t":16,"v":0.12},{"s":59,"t":19,"v":0.06},{"s":59,"t":22,"v":0.03},{"s":59,"t":24,"v":0.04},
{"s":60,"t":1,"v":0.46},{"s":60,"t":4,"v":0.56},{"s":60,"t":7,"v":0.48},{"s":60,"t":10,"v":0.36},{"s":60,"t":13,"v":0.26},{"s":60,"t":16,"v":0.2},{"s":60,"t":19,"v":0.24},{"s":60,"t":22,"v":0.34},{"s":60,"t":24,"v":0.4},
{"s":61,"t":1,"v":0.14},{"s":61,"t":4,"v":0.2},{"s":61,"t":7,"v":0.28},{"s":61,"t":10,"v":0.22},{"s":61,"t":13,"v":0.1},{"s":61,"t":16,"v":0.06},{"s":61,"t":19,"v":0.09},{"s":61,"t":22,"v":0.16},{"s":61,"t":24,"v":0.22},
{"s":62,"t":1,"v":0.58},{"s":62,"t":4,"v":0.48},{"s":62,"t":7,"v":0.6},{"s":62,"t":10,"v":0.76},{"s":62,"t":13,"v":0.86},{"s":62,"t":16,"v":0.92},{"s":62,"t":19,"v":0.86},{"s":62,"t":22,"v":0.74},{"s":62,"t":24,"v":0.66},
{"s":63,"t":1,"v":0.09},{"s":63,"t":4,"v":0.14},{"s":63,"t":7,"v":0.1},{"s":63,"t":10,"v":0.06},{"s":63,"t":13,"v":0.04},{"s":63,"t":16,"v":0.08},{"s":63,"t":19,"v":0.16},{"s":63,"t":22,"v":0.12},{"s":63,"t":24,"v":0.08},
{"s":64,"t":1,"v":0.36},{"s":64,"t":4,"v":0.28},{"s":64,"t":7,"v":0.18},{"s":64,"t":10,"v":0.26},{"s":64,"t":13,"v":0.4},{"s":64,"t":16,"v":0.52},{"s":64,"t":19,"v":0.46},{"s":64,"t":22,"v":0.36},{"s":64,"t":24,"v":0.32},
{"s":65,"t":1,"v":0.72},{"s":65,"t":4,"v":0.56},{"s":65,"t":7,"v":0.4},{"s":65,"t":10,"v":0.32},{"s":65,"t":13,"v":0.38},{"s":65,"t":16,"v":0.5},{"s":65,"t":19,"v":0.62},{"s":65,"t":22,"v":0.56},{"s":65,"t":24,"v":0.5},
{"s":66,"t":1,"v":0.18},{"s":66,"t":4,"v":0.26},{"s":66,"t":7,"v":0.36},{"s":66,"t":10,"v":0.32},{"s":66,"t":13,"v":0.24},{"s":66,"t":16,"v":0.18},{"s":66,"t":19,"v":0.12},{"s":66,"t":22,"v":0.1},{"s":66,"t":24,"v":0.13},
{"s":67,"t":1,"v":0.02},{"s":67,"t":4,"v":0.05},{"s":67,"t":7,"v":0.09},{"s":67,"t":10,"v":0.07},{"s":67,"t":13,"v":0.03},{"s":67,"t":16,"v":0.02},{"s":67,"t":19,"v":0.04},{"s":67,"t":22,"v":0.08},{"s":67,"t":24,"v":0.11},
{"s":68,"t":1,"v":0.95},{"s":68,"t":4,"v":0.82},{"s":68,"t":7,"v":0.66},{"s":68,"t":10,"v":0.58},{"s":68,"t":13,"v":0.64},{"s":68,"t":16,"v":0.56},{"s":68,"t":19,"v":0.44},{"s":68,"t":22,"v":0.38},{"s":68,"t":24,"v":0.36},
{"s":69,"t":1,"v":0.28},{"s":69,"t":4,"v":0.18},{"s":69,"t":7,"v":0.14},{"s":69,"t":10,"v":0.18},{"s":69,"t":13,"v":0.28},{"s":69,"t":16,"v":0.22},{"s":69,"t":19,"v":0.14},{"s":69,"t":22,"v":0.1},{"s":69,"t":24,"v":0.07},
{"s":70,"t":1,"v":0.5},{"s":70,"t":4,"v":0.6},{"s":70,"t":7,"v":0.7},{"s":70,"t":10,"v":0.62},{"s":70,"t":13,"v":0.5},{"s":70,"t":16,"v":0.6},{"s":70,"t":19,"v":0.72},{"s":70,"t":22,"v":0.86},{"s":70,"t":24,"v":0.92},
{"s":71,"t":1,"v":0.11},{"s":71,"t":4,"v":0.06},{"s":71,"t":7,"v":0.02},{"s":71,"t":10,"v":0.05},{"s":71,"t":13,"v":0.12},{"s":71,"t":16,"v":0.2},{"s":71,"t":19,"v":0.17},{"s":71,"t":22,"v":0.1},{"s":71,"t":24,"v":0.06},
{"s":72,"t":1,"v":0.4},{"s":72,"t":4,"v":0.52},{"s":72,"t":7,"v":0.66},{"s":72,"t":10,"v":0.78},{"s":72,"t":13,"v":0.7},{"s":72,"t":16,"v":0.58},{"s":72,"t":19,"v":0.5},{"s":72,"t":22,"v":0.44},{"s":72,"t":24,"v":0.46},
{"s":101,"t":1,"v":0.645},{"s":101,"t":3,"v":0.575},{"s":101,"t":5,"v":0.4},{"s":101,"t":7,"v":0.34},{"s":101,"t":9,"v":0.335},{"s":101,"t":11,"v":0.34},{"s":101,"t":13,"v":0.38},{"s":101,"t":15,"v":0.44},{"s":101,"t":17,"v":0.48},{"s":101,"t":19,"v":0.62},{"s":101,"t":21,"v":0.8},{"s":101,"t":23,"v":0.96},{"s":101,"t":24,"v":0.99},
{"s":102,"t":1,"v":0.47},{"s":102,"t":3,"v":0.465},{"s":102,"t":5,"v":0.45},{"s":102,"t":7,"v":0.44},{"s":102,"t":9,"v":0.43},{"s":102,"t":11,"v":0.48},{"s":102,"t":13,"v":0.49},{"s":102,"t":15,"v":0.485},{"s":102,"t":17,"v":0.48},{"s":102,"t":19,"v":0.455},{"s":102,"t":21,"v":0.42},{"s":102,"t":23,"v":0.38},{"s":102,"t":24,"v":0.36},
{"s":103,"t":1,"v":0.4},{"s":103,"t":3,"v":0.4},{"s":103,"t":5,"v":0.43},{"s":103,"t":7,"v":0.4},{"s":103,"t":9,"v":0.37},{"s":103,"t":11,"v":0.35},{"s":103,"t":13,"v":0.31},{"s":103,"t":14,"v":0.28},{"s":103,"t":15,"v":0.285},{"s":103,"t":17,"v":0.32},{"s":103,"t":19,"v":0.345},{"s":103,"t":21,"v":0.33},{"s":103,"t":22,"v":0.31},{"s":103,"t":24,"v":0.36},
{"s":104,"t":1,"v":0.36},{"s":104,"t":3,"v":0.37},{"s":104,"t":5,"v":0.42},{"s":104,"t":7,"v":0.43},{"s":104,"t":9,"v":0.42},{"s":104,"t":11,"v":0.4},{"s":104,"t":13,"v":0.39},{"s":104,"t":15,"v":0.38},{"s":104,"t":16,"v":0.38},{"s":104,"t":17,"v":0.42},{"s":104,"t":18,"v":0.56},{"s":104,"t":19,"v":0.82},{"s":104,"t":20,"v":1.0},{"s":104,"t":21,"v":1.0},{"s":104,"t":22,"v":0.99},{"s":104,"t":23,"v":0.83},{"s":104,"t":24,"v":0.67},
{"s":105,"t":1,"v":0.57},{"s":105,"t":3,"v":0.55},{"s":105,"t":5,"v":0.45},{"s":105,"t":7,"v":0.42},{"s":105,"t":9,"v":0.45},{"s":105,"t":11,"v":0.5},{"s":105,"t":13,"v":0.56},{"s":105,"t":15,"v":0.6},{"s":105,"t":17,"v":0.66},{"s":105,"t":19,"v":0.78},{"s":105,"t":21,"v":0.86},{"s":105,"t":23,"v":0.9},{"s":105,"t":24,"v":0.9},
{"s":106,"t":1,"v":0.58},{"s":106,"t":3,"v":0.58},{"s":106,"t":5,"v":0.49},{"s":106,"t":7,"v":0.46},{"s":106,"t":9,"v":0.44},{"s":106,"t":11,"v":0.5},{"s":106,"t":13,"v":0.57},{"s":106,"t":15,"v":0.6},{"s":106,"t":17,"v":0.76},{"s":106,"t":19,"v":0.8},{"s":106,"t":21,"v":0.79},{"s":106,"t":23,"v":0.79},{"s":106,"t":24,"v":0.82},
{"s":107,"t":1,"v":0.5},{"s":107,"t":3,"v":0.49},{"s":107,"t":5,"v":0.45},{"s":107,"t":7,"v":0.43},{"s":107,"t":9,"v":0.4},{"s":107,"t":11,"v":0.37},{"s":107,"t":13,"v":0.41},{"s":107,"t":15,"v":0.46},{"s":107,"t":17,"v":0.48},{"s":107,"t":19,"v":0.56},{"s":107,"t":21,"v":0.66},{"s":107,"t":23,"v":0.72},{"s":107,"t":24,"v":0.73},
{"s":108,"t":1,"v":0.38},{"s":108,"t":3,"v":0.39},{"s":108,"t":5,"v":0.39},{"s":108,"t":7,"v":0.4},{"s":108,"t":9,"v":0.42},{"s":108,"t":11,"v":0.46},{"s":108,"t":13,"v":0.5},{"s":108,"t":15,"v":0.53},{"s":108,"t":17,"v":0.52},{"s":108,"t":19,"v":0.59},{"s":108,"t":21,"v":0.59},{"s":108,"t":23,"v":0.57},{"s":108,"t":24,"v":0.56},
{"s":109,"t":1,"v":0.5},{"s":109,"t":3,"v":0.49},{"s":109,"t":5,"v":0.53},{"s":109,"t":6,"v":0.545},{"s":109,"t":7,"v":0.54},{"s":109,"t":9,"v":0.51},{"s":109,"t":10,"v":0.52},{"s":109,"t":11,"v":0.5},{"s":109,"t":12,"v":0.46},{"s":109,"t":13,"v":0.42},{"s":109,"t":15,"v":0.44},{"s":109,"t":17,"v":0.5},{"s":109,"t":19,"v":0.59},{"s":109,"t":21,"v":0.59},{"s":109,"t":23,"v":0.55},{"s":109,"t":24,"v":0.53},
{"s":110,"t":1,"v":0.36},{"s":110,"t":3,"v":0.35},{"s":110,"t":5,"v":0.4},{"s":110,"t":7,"v":0.36},{"s":110,"t":9,"v":0.34},{"s":110,"t":11,"v":0.34},{"s":110,"t":13,"v":0.38},{"s":110,"t":15,"v":0.44},{"s":110,"t":17,"v":0.47},{"s":110,"t":19,"v":0.52},{"s":110,"t":21,"v":0.6},{"s":110,"t":23,"v":0.61},{"s":110,"t":24,"v":0.64},
{"s":201,"t":1,"v":1.0},{"s":201,"t":9,"v":1.0},{"s":201,"t":10,"v":0},{"s":201,"t":17,"v":0},{"s":201,"t":18,"v":1.0},{"s":201,"t":19,"v":0.975},{"s":201,"t":20,"v":0.91},{"s":201,"t":21,"v":0.58},{"s":201,"t":22,"v":0.27},{"s":201,"t":23,"v":0.15},{"s":201,"t":24,"v":0.144},
{"s":202,"t":1,"v":0},{"s":202,"t":6,"v":0},{"s":202,"t":7,"v":1.0},{"s":202,"t":24,"v":1.0},
{"s":203,"t":1,"v":0.028},{"s":203,"t":2,"v":0.055},{"s":203,"t":3,"v":0.11},{"s":203,"t":4,"v":0.17},{"s":203,"t":5,"v":0.21},{"s":203,"t":6,"v":0.255},{"s":203,"t":7,"v":0.3},{"s":203,"t":8,"v":0.37},{"s":203,"t":9,"v":0.48},{"s":203,"t":10,"v":0.62},{"s":203,"t":11,"v":0.84},{"s":203,"t":12,"v":1.0},{"s":203,"t":17,"v":1.0},{"s":203,"t":18,"v":0.97},{"s":203,"t":19,"v":0.88},{"s":203,"t":20,"v":0.76},{"s":203,"t":21,"v":0.65},{"s":203,"t":22,"v":0.54},{"s":203,"t":23,"v":0.55},{"s":203,"t":24,"v":0.575},
{"s":204,"t":1,"v":0.255},{"s":204,"t":3,"v":0.233},{"s":204,"t":4,"v":0.255},{"s":204,"t":5,"v":0.3},{"s":204,"t":6,"v":0.36},{"s":204,"t":7,"v":0.43},{"s":204,"t":8,"v":0.51},{"s":204,"t":9,"v":0.58},{"s":204,"t":10,"v":0.66},{"s":204,"t":11,"v":0.76},{"s":204,"t":12,"v":0.85},{"s":204,"t":13,"v":0.89},{"s":204,"t":14,"v":0.915},{"s":204,"t":15,"v":0.915},{"s":204,"t":16,"v":0.89},{"s":204,"t":18,"v":0.82},{"s":204,"t":19,"v":0.77},{"s":204,"t":20,"v":0.7},{"s":204,"t":21,"v":0.67},{"s":204,"t":22,"v":0.65},{"s":204,"t":23,"v":0.655},{"s":204,"t":24,"v":0.71},
{"s":205,"t":1,"v":1.0},{"s":205,"t":2,"v":0.86},{"s":205,"t":3,"v":0.79},{"s":205,"t":4,"v":0.62},{"s":205,"t":5,"v":0.45},{"s":205,"t":6,"v":0.3},{"s":205,"t":7,"v":0.18},{"s":205,"t":8,"v":0.12},{"s":205,"t":9,"v":0.09},{"s":205,"t":11,"v":0.05},{"s":205,"t":13,"v":0.08},{"s":205,"t":15,"v":0.16},{"s":205,"t":17,"v":0.25},{"s":205,"t":19,"v":0.37},{"s":205,"t":21,"v":0.47},{"s":205,"t":23,"v":0.57},{"s":205,"t":24,"v":0.62},
{"s":206,"t":1,"v":0.89},{"s":206,"t":2,"v":0.83},{"s":206,"t":3,"v":0.76},{"s":206,"t":4,"v":0.69},{"s":206,"t":5,"v":0.64},{"s":206,"t":6,"v":0.625},{"s":206,"t":7,"v":0.655},{"s":206,"t":8,"v":0.68},{"s":206,"t":9,"v":0.675},{"s":206,"t":10,"v":0.6},{"s":206,"t":11,"v":0.51},{"s":206,"t":12,"v":0.55},{"s":206,"t":13,"v":0.63},{"s":206,"t":14,"v":0.74},{"s":206,"t":15,"v":0.8},{"s":206,"t":16,"v":0.82},{"s":206,"t":17,"v":0.81},{"s":206,"t":18,"v":0.72},{"s":206,"t":19,"v":0.62},{"s":206,"t":20,"v":0.55},{"s":206,"t":21,"v":0.62},{"s":206,"t":22,"v":0.98},{"s":206,"t":23,"v":1.0},{"s":206,"t":24,"v":1.0},
{"s":207,"t":1,"v":1.0},{"s":207,"t":2,"v":0.99},{"s":207,"t":3,"v":0.93},{"s":207,"t":4,"v":0.86},{"s":207,"t":5,"v":0.77},{"s":207,"t":6,"v":0.66},{"s":207,"t":7,"v":0.53},{"s":207,"t":8,"v":0.4},{"s":207,"t":9,"v":0.28},{"s":207,"t":10,"v":0.17},{"s":207,"t":11,"v":0.09},{"s":207,"t":12,"v":0.055},{"s":207,"t":13,"v":0.08},{"s":207,"t":14,"v":0.13},{"s":207,"t":16,"v":0.25},{"s":207,"t":18,"v":0.41},{"s":207,"t":20,"v":0.58},{"s":207,"t":22,"v":0.75},{"s":207,"t":24,"v":0.93},
{"s":208,"t":1,"v":0.07},{"s":208,"t":2,"v":0.075},{"s":208,"t":3,"v":0.14},{"s":208,"t":4,"v":0.2},{"s":208,"t":5,"v":0.26},{"s":208,"t":6,"v":0.31},{"s":208,"t":7,"v":0.38},{"s":208,"t":8,"v":0.46},{"s":208,"t":9,"v":0.55},{"s":208,"t":10,"v":0.63},{"s":208,"t":11,"v":0.69},{"s":208,"t":12,"v":0.59},{"s":208,"t":13,"v":0.62},{"s":208,"t":14,"v":0.72},{"s":208,"t":15,"v":0.88},{"s":208,"t":16,"v":1.0},{"s":208,"t":17,"v":0.98},{"s":208,"t":18,"v":0.9},{"s":208,"t":19,"v":0.8},{"s":208,"t":20,"v":0.66},{"s":208,"t":21,"v":0.56},{"s":208,"t":22,"v":0.48},{"s":208,"t":23,"v":0.46},{"s":208,"t":24,"v":0.455},
{"s":209,"t":1,"v":0.98},{"s":209,"t":3,"v":0.92},{"s":209,"t":5,"v":0.8},{"s":209,"t":7,"v":0.68},{"s":209,"t":9,"v":0.58},{"s":209,"t":10,"v":0.56},{"s":209,"t":11,"v":0.57},{"s":209,"t":12,"v":0.6},{"s":209,"t":13,"v":0.66},{"s":209,"t":14,"v":0.74},{"s":209,"t":15,"v":0.82},{"s":209,"t":16,"v":0.89},{"s":209,"t":17,"v":0.93},{"s":209,"t":18,"v":0.92},{"s":209,"t":19,"v":0.86},{"s":209,"t":20,"v":0.76},{"s":209,"t":21,"v":0.66},{"s":209,"t":22,"v":0.6},{"s":209,"t":24,"v":0.58},
{"s":210,"t":1,"v":0.88},{"s":210,"t":3,"v":0.7},{"s":210,"t":5,"v":0.46},{"s":210,"t":7,"v":0.24},{"s":210,"t":9,"v":0.1},{"s":210,"t":11,"v":0.045},{"s":210,"t":12,"v":0.045},{"s":210,"t":13,"v":0.07},{"s":210,"t":15,"v":0.16},{"s":210,"t":17,"v":0.27},{"s":210,"t":18,"v":0.28},{"s":210,"t":19,"v":0.25},{"s":210,"t":20,"v":0.22},{"s":210,"t":21,"v":0.23},{"s":210,"t":22,"v":0.27},{"s":210,"t":23,"v":0.33},{"s":210,"t":24,"v":0.4}
]
},
"concat":[
{"width":348,"height":301,"title":"(a) 10 most typical load patterns","data":{"name":"L"},
"encoding":{"x":{"field":"t","type":"quantitative","scale":{"domain":[1,24],"nice":false,"zero":false},"axis":{"values":[4,8,12,16,20,24],"title":"t [h]"}},
"y":{"field":"v","type":"quantitative","scale":{"domain":[0,1],"nice":false},"axis":{"values":[0,0.25,0.5,0.75,1],"labelExpr":"''+datum.value","title":"ξˡ [pu]"}},
"detail":{"field":"s","type":"nominal"}},
"layer":[
{"transform":[{"filter":"datum.s>100 && datum.s<200"}],"mark":{"type":"line","color":"#0000ff","strokeWidth":3.5}},
{"transform":[{"filter":"datum.s<100 || datum.s>200"}],"mark":{"type":"line","color":"#bebebe","strokeWidth":1.4}}
]},
{"width":348,"height":301,"title":"(b) 10 most typical wind power patterns","data":{"name":"W"},
"encoding":{"x":{"field":"t","type":"quantitative","scale":{"domain":[1,24],"nice":false,"zero":false},"axis":{"values":[4,8,12,16,20,24],"title":"t [h]"}},
"y":{"field":"v","type":"quantitative","scale":{"domain":[0,1],"nice":false},"axis":{"values":[0,0.25,0.5,0.75,1],"labelExpr":"''+datum.value","title":"ξʷ [pu]"}},
"detail":{"field":"s","type":"nominal"}},
"layer":[
{"transform":[{"filter":"datum.s>100 && datum.s<200"}],"mark":{"type":"line","color":"#0000ff","strokeWidth":4,"interpolate":"monotone"}},
{"transform":[{"filter":"datum.s<100 || datum.s>200"}],"mark":{"type":"line","color":"#bebebe","strokeWidth":1.4,"interpolate":"monotone"}}
]},
{"width":348,"height":301,"title":"(c) 10 least typical load patterns","data":{"name":"L"},
"encoding":{"x":{"field":"t","type":"quantitative","scale":{"domain":[1,24],"nice":false,"zero":false},"axis":{"values":[4,8,12,16,20,24],"title":"t [h]"}},
"y":{"field":"v","type":"quantitative","scale":{"domain":[0,1],"nice":false},"axis":{"values":[0,0.25,0.5,0.75,1],"labelExpr":"''+datum.value","title":"ξˡ [pu]"}},
"detail":{"field":"s","type":"nominal"}},
"layer":[
{"transform":[{"filter":"datum.s>200"}],"mark":{"type":"line","color":"#ff0000","strokeWidth":3.5}},
{"transform":[{"filter":"datum.s<200"}],"mark":{"type":"line","color":"#bebebe","strokeWidth":1.4}}
]},
{"width":348,"height":301,"title":"(d) 10 least typical wind power patterns","data":{"name":"W"},
"encoding":{"x":{"field":"t","type":"quantitative","scale":{"domain":[1,24],"nice":false,"zero":false},"axis":{"values":[4,8,12,16,20,24],"title":"t [h]"}},
"y":{"field":"v","type":"quantitative","scale":{"domain":[0,1],"nice":false},"axis":{"values":[0,0.25,0.5,0.75,1],"labelExpr":"''+datum.value","title":"ξʷ [pu]"}},
"detail":{"field":"s","type":"nominal"}},
"layer":[
{"transform":[{"filter":"datum.s>200"}],"mark":{"type":"line","color":"#ff0000","strokeWidth":3.5,"interpolate":"monotone"}},
{"transform":[{"filter":"datum.s<200"}],"mark":{"type":"line","color":"#bebebe","strokeWidth":1.4,"interpolate":"monotone"}}
]}
]
}
